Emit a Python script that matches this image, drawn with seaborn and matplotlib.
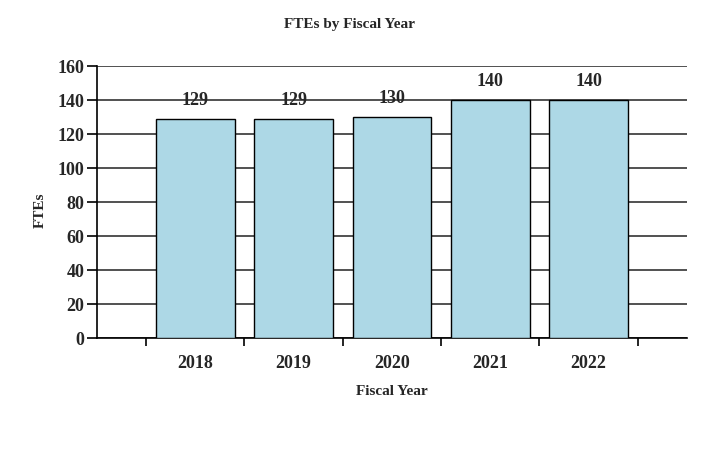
import matplotlib.pyplot as plt
import seaborn as sns
import pandas as pd
from matplotlib.ticker import FixedLocator

years = ["2018", "2019", "2020", "2021", "2022"]
ftes = [129, 129, 130, 140, 140]

df = pd.DataFrame({"year": years, "fte": ftes})

sns.set_style("white")
plt.rcParams['font.family'] = ['Liberation Serif', 'DejaVu Serif']

fig = plt.figure(figsize=(7.13, 4.54), dpi=100)
ax = fig.add_axes([0.136, 0.2555, 0.8275, 0.5991])

sns.barplot(data=df, x="year", y="fte", color="#add8e6", saturation=1,
            width=0.8, edgecolor="black", linewidth=1, ax=ax, zorder=3)

ax.set_xlim(-1, 5)
ax.set_ylim(0, 160)
ax.set_yticks(range(0, 161, 20))
ax.yaxis.grid(True, color="#333333", linewidth=1.2, zorder=0)
ax.set_axisbelow(True)

for s in ["top", "right"]:
    ax.spines[s].set_visible(False)
for s in ["left", "bottom"]:
    ax.spines[s].set_color("black")
    ax.spines[s].set_linewidth(1.2)

# labels at bar centers, tick marks between bars
ax.xaxis.set_minor_locator(FixedLocator([-0.5, 0.5, 1.5, 2.5, 3.5, 4.5]))
ax.tick_params(axis="x", which="major", bottom=True, length=0, pad=12, labelsize=13)
ax.tick_params(axis="x", which="minor", bottom=True, length=6, width=1.2,
               color="black", direction="out")
ax.tick_params(axis="y", left=True, length=7, width=1.2, color="black",
               direction="out", labelsize=13, pad=2)
for lab in ax.get_xticklabels() + ax.get_yticklabels():
    lab.set_fontweight("bold")

ax.set_xlabel("")
ax.set_ylabel("")

for i, v in enumerate(ftes):
    ax.annotate(str(v), (i, v), xytext=(0, 7), textcoords="offset points",
                ha="center", va="bottom", fontsize=13, fontweight="bold")

fig.text(0.49, 0.945, "FTEs by Fiscal Year", ha="center", va="center",
         fontsize=11, fontweight="bold")
fig.text(0.549, 0.137, "Fiscal Year", ha="center", va="center",
         fontsize=11, fontweight="bold")
fig.text(0.057, 0.537, "FTEs", ha="center", va="center", rotation=90,
         fontsize=11, fontweight="bold")

fig.savefig("out.png", dpi=100)
